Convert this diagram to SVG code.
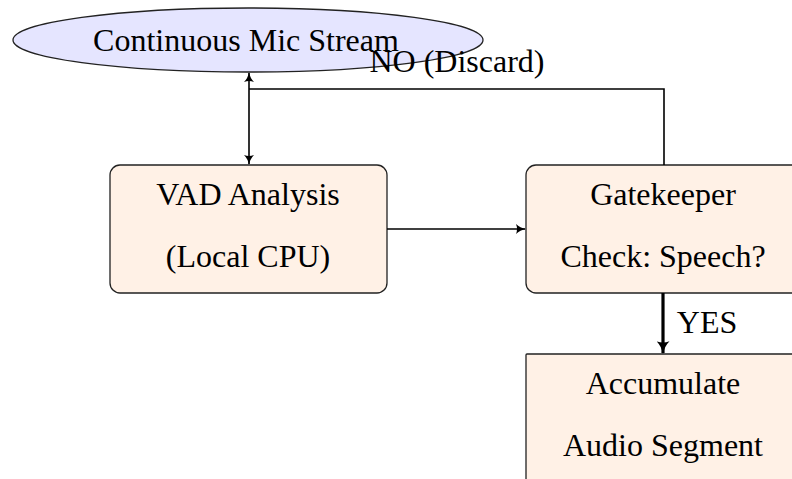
<svg xmlns="http://www.w3.org/2000/svg" width="792" height="479" viewBox="0 0 792 479">
<defs>
<style>
.box{fill:#fff1e6;stroke:#222;stroke-width:1.3}
.ell{fill:#e5e5ff;stroke:#222;stroke-width:1.3}
.t{font-family:"Liberation Serif","Times New Roman",serif;font-size:32px;fill:#000;text-anchor:middle}
.ln{fill:none;stroke:#000;stroke-width:1.6}
.thick{fill:none;stroke:#000;stroke-width:3.2}
</style>
<marker id="ah" viewBox="0 0 10 10" refX="9" refY="5" markerWidth="11" markerHeight="10" markerUnits="userSpaceOnUse" orient="auto-start-reverse">
<path d="M0,0 Q4,4 10,5 Q4,6 0,10 Q2,5 0,0 Z" fill="#000"/>
</marker>
<marker id="ahb" viewBox="0 0 10 10" refX="9" refY="5" markerWidth="15" markerHeight="13" markerUnits="userSpaceOnUse" orient="auto">
<path d="M0,0 Q4,4 10,5 Q4,6 0,10 Q2,5 0,0 Z" fill="#000"/>
</marker>
</defs>
<g id="stream">
<ellipse class="ell" cx="248" cy="40" rx="235" ry="32"/>
<text class="t" x="246" y="51">Continuous Mic Stream</text>
</g>
<g id="vad">
<rect class="box" x="110" y="165" width="277" height="128" rx="10"/>
<text class="t" x="248" y="205">VAD Analysis</text>
<text class="t" x="248" y="267">(Local CPU)</text>
</g>
<g id="gatekeeper">
<rect class="box" x="526" y="165" width="277" height="128" rx="10"/>
<text class="t" x="663" y="205">Gatekeeper</text>
<text class="t" x="663" y="267">Check: Speech?</text>
</g>
<g id="accumulate">
<rect class="box" x="526" y="354" width="277" height="140" rx="1"/>
<text class="t" x="663" y="394">Accumulate</text>
<text class="t" x="663" y="456">Audio Segment</text>
</g>
<g id="connectors">
<line class="ln" x1="249" y1="73" x2="249" y2="164" marker-start="url(#ah)" marker-end="url(#ah)"/>
<polyline class="ln" points="664,165 664,89 249,89"/>
<line class="ln" x1="387" y1="229" x2="525" y2="229" marker-end="url(#ah)"/>
<line class="thick" x1="663" y1="293" x2="663" y2="353" marker-end="url(#ahb)"/>
<text class="t" x="457" y="72">NO (Discard)</text>
<text class="t" x="707" y="333">YES</text>
</g>
</svg>
